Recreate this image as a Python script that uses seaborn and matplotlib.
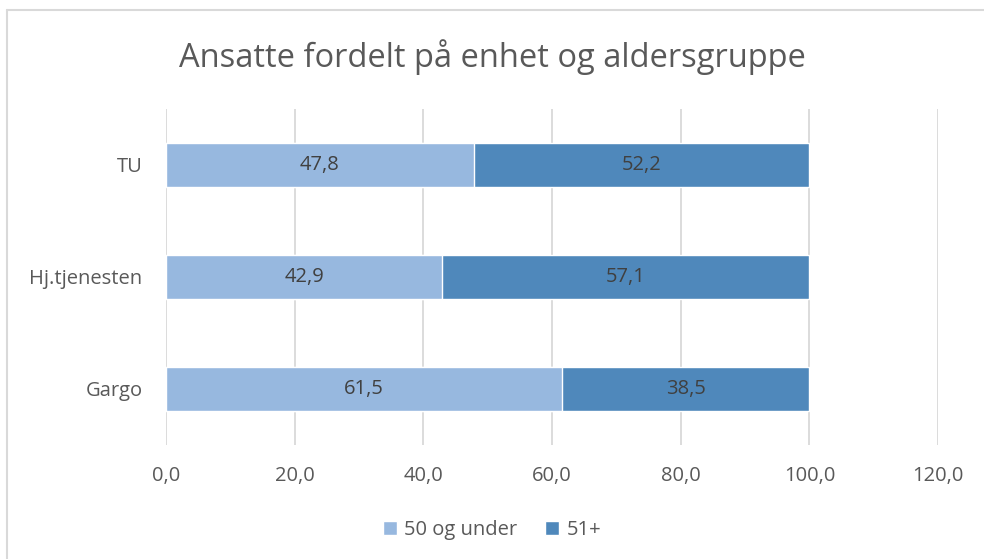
import matplotlib
matplotlib.use("Agg")
import matplotlib.pyplot as plt
import seaborn as sns
import pandas as pd
from matplotlib.patches import Patch
from matplotlib.lines import Line2D

units = ["TU", "Hj.tjenesten", "Gargo"]
under50 = [47.8, 42.9, 61.5]
over51 = [52.2, 57.1, 38.5]
series_names = ["50 og under", "51+"]
xticks = [0, 20, 40, 60, 80, 100, 120]

light = "#97B8DF"
dark = "#4F88BB"
txt = "#595959"

sns.set_theme(style="white")
plt.rcParams["font.family"] = ["Open Sans", "DejaVu Sans"]

df = pd.DataFrame({"enhet": units, "a": under50, "b": over51})
df["total"] = df["a"] + df["b"]

fig = plt.figure(figsize=(9.84, 5.59), dpi=100)
ax = fig.add_axes([0.1687, 0.204, 0.7846, 0.601])

sns.barplot(data=df, y="enhet", x="total", color=dark, width=0.4, ax=ax,
            orient="h", saturation=1, order=units)
sns.barplot(data=df, y="enhet", x="a", color=light, width=0.4, ax=ax,
            orient="h", saturation=1, order=units)

for i, (a, b) in enumerate(zip(under50, over51)):
    ax.text(a / 2, i, f"{a:.1f}".replace(".", ","), ha="center", va="center",
            fontsize=14.5, color="#404040")
    ax.text(a + b / 2, i, f"{b:.1f}".replace(".", ","), ha="center", va="center",
            fontsize=14.5, color="#404040")

ax.set_xlim(0, 120)
ax.set_ylim(2.5, -0.5)
ax.set_xticks(xticks)
ax.set_xticklabels([f"{v:.1f}".replace(".", ",") for v in xticks])
ax.grid(axis="x", color="#D9D9D9", linewidth=1.3)
ax.set_axisbelow(True)
for s in ax.spines.values():
    s.set_visible(False)
ax.tick_params(axis="both", length=0, labelsize=14.5, labelcolor=txt)
ax.tick_params(axis="x", pad=15)
ax.tick_params(axis="y", pad=17)
ax.set_xlabel("")
ax.set_ylabel("")

fig.text(0.5, 0.898, "Ansatte fordelt på enhet og aldersgruppe", ha="center",
         va="center", fontsize=23.5, color=txt)

handles = [Patch(facecolor=light, label=series_names[0]),
           Patch(facecolor=dark, label=series_names[1])]
fig.legend(handles=handles, loc="center", bbox_to_anchor=(0.5, 0.052), ncol=2,
           frameon=False, fontsize=14.5, handlelength=0.7, handleheight=0.7,
           handletextpad=0.35, columnspacing=1.4, labelcolor=txt)

# chart border (top and left edges visible)
fig.add_artist(Line2D([7 / 984, 1], [1 - 10 / 559, 1 - 10 / 559],
                      transform=fig.transFigure, color="#D9D9D9", linewidth=1.5))
fig.add_artist(Line2D([7 / 984, 7 / 984], [0, 1 - 10 / 559],
                      transform=fig.transFigure, color="#D9D9D9", linewidth=1.5))

fig.savefig("out.png", dpi=100)
